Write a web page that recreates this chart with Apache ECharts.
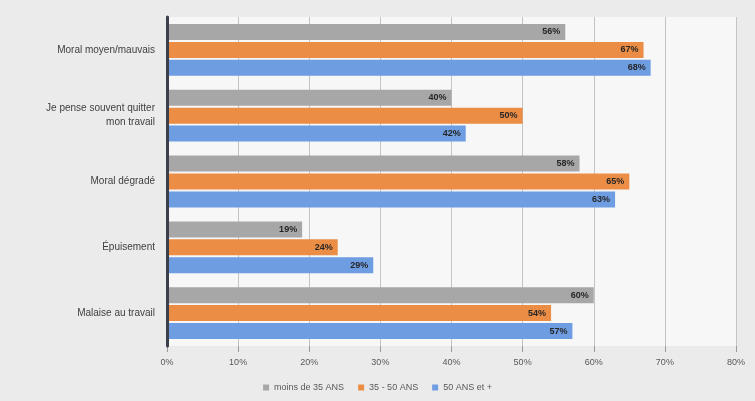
<!DOCTYPE html>
<html>
<head>
<meta charset="utf-8">
<script src="https://cdn.jsdelivr.net/npm/echarts@6/dist/echarts.min.js"></script>
<style>
  html, body { margin: 0; padding: 0; background: #ebebeb; }
  #chart { width: 755px; height: 401px; }
</style>
</head>
<body>
<div id="chart"></div>
<script>
// Categories, top to bottom
const categories = [
  'Moral moyen/mauvais',
  'Je pense souvent quitter\nmon travail',
  'Moral dégradé',
  'Épuisement',
  'Malaise au travail'
];

// Share of respondents (%) per age group
const seriesNames = ['moins de 35 ANS', '35 - 50 ANS', '50 ANS et +'];
const under35 = [56, 40, 58, 19, 60];
const from35to50 = [67, 50, 65, 24, 54];
const over50 = [68, 42, 63, 29, 57];

const xTicks = [0, 10, 20, 30, 40, 50, 60, 70, 80];

const colors = ['#a7a7a7', '#eb8d45', '#6e9de2'];

const chart = echarts.init(document.getElementById('chart'));

function barSeries(name, data, color) {
  return {
    name: name,
    type: 'bar',
    data: data,
    barWidth: 16,
    barGap: '12%',
    itemStyle: { color: color },
    label: {
      show: true,
      position: 'insideRight',
      formatter: p => p.value + '%',
      color: '#262626',
      fontSize: 9,
      fontWeight: 'bold',
      fontFamily: 'Liberation Sans'
    }
  };
}

chart.setOption({
  backgroundColor: '#ebebeb',
  animation: false,
  textStyle: { fontFamily: 'Liberation Sans' },
  grid: {
    left: 167,
    right: 19,
    top: 17,
    bottom: 55,
    show: true,
    backgroundColor: '#f7f7f7',
    borderWidth: 0
  },
  legend: {
    bottom: 4,
    left: 'center',
    itemWidth: 6,
    itemHeight: 6,
    itemGap: 14,
    icon: 'rect',
    textStyle: { color: '#595959', fontSize: 9 },
    data: seriesNames
  },
  xAxis: {
    type: 'value',
    min: xTicks[0],
    max: xTicks[xTicks.length - 1],
    interval: 10,
    axisLine: { show: false },
    axisTick: {
      show: true,
      length: 6,
      lineStyle: { color: '#9a9a9a' }
    },
    axisLabel: {
      formatter: v => v + '%',
      color: '#595959',
      fontSize: 9,
      margin: 12
    },
    splitLine: { show: true, lineStyle: { color: '#c4c4c4', width: 1 } }
  },
  yAxis: {
    type: 'category',
    inverse: true,
    z: 5,
    data: categories,
    axisLine: { show: true, lineStyle: { color: '#3a3f4a', width: 3 } },
    axisTick: { show: false },
    axisLabel: {
      color: '#404040',
      fontSize: 10,
      margin: 12,
      lineHeight: 14
    }
  },
  series: [
    barSeries(seriesNames[0], under35, colors[0]),
    barSeries(seriesNames[1], from35to50, colors[1]),
    barSeries(seriesNames[2], over50, colors[2])
  ]
});
</script>
</body>
</html>
